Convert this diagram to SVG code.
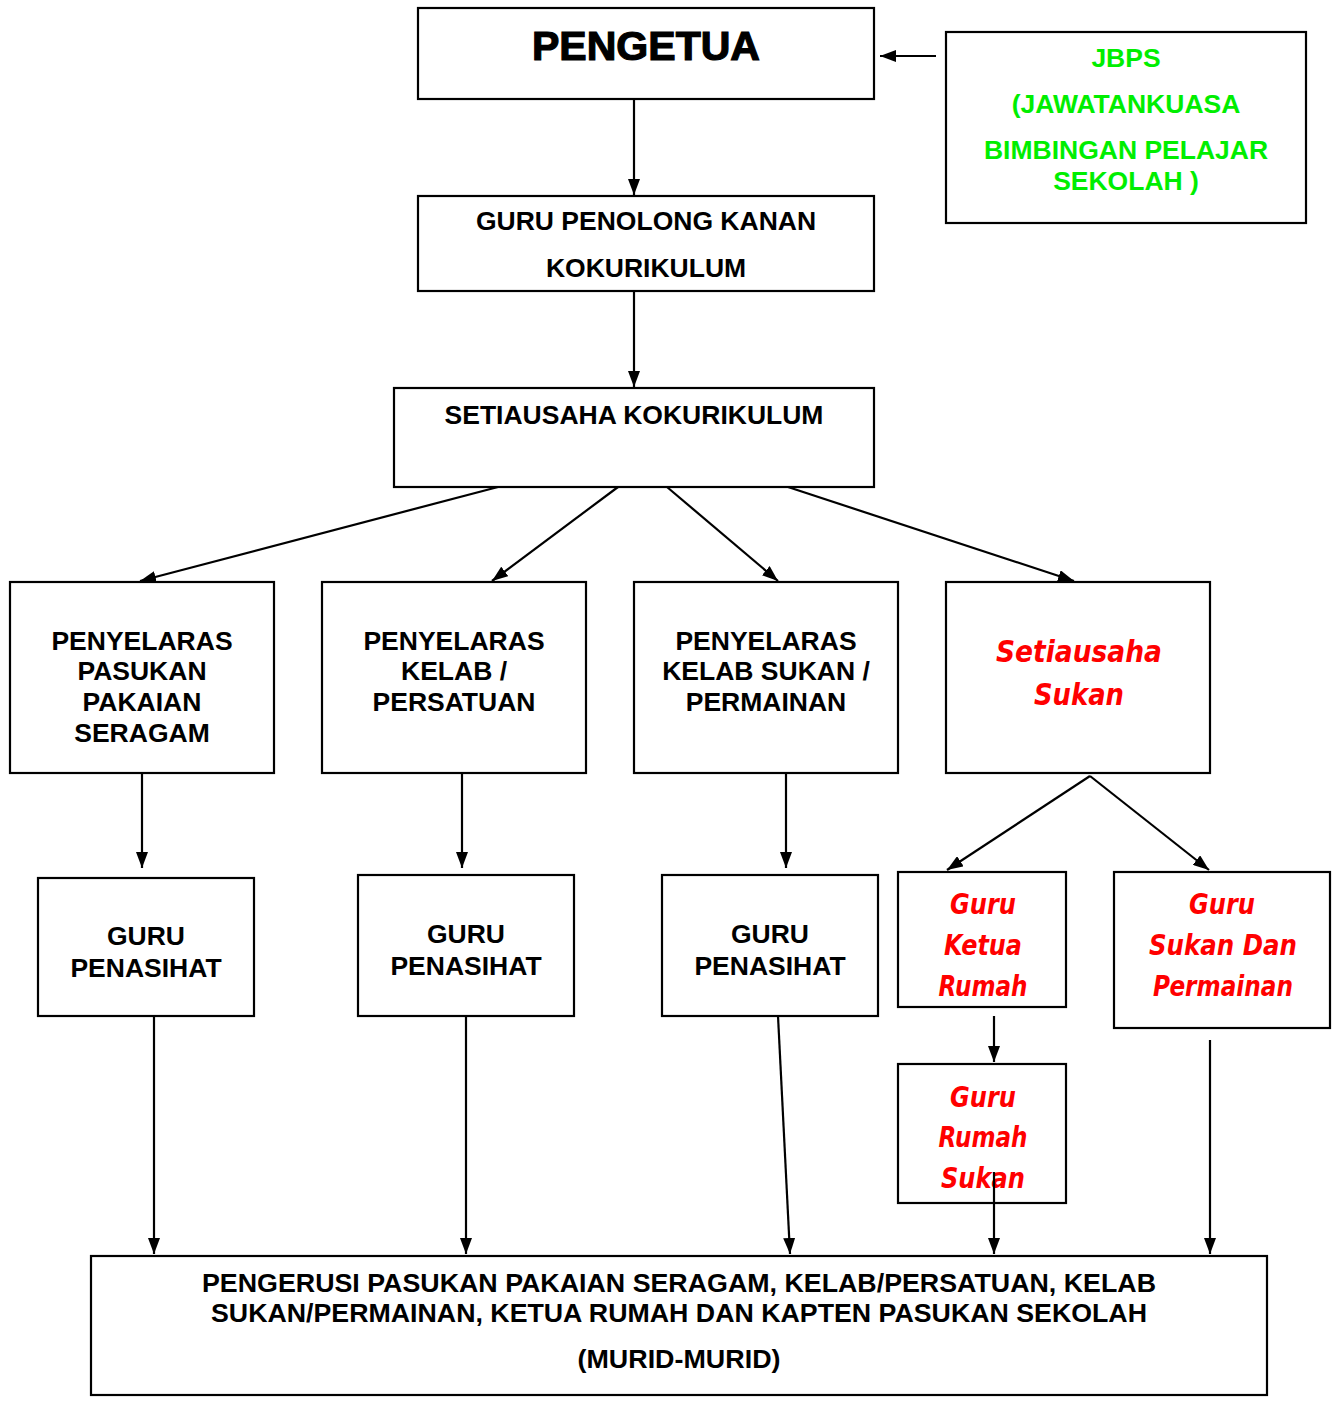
<svg xmlns="http://www.w3.org/2000/svg" width="1335" height="1405" viewBox="0 0 1335 1405">
<defs>
<marker id="ah" markerWidth="16" markerHeight="12" refX="16" refY="6" orient="auto" markerUnits="userSpaceOnUse">
<path d="M0,0 L16,6 L0,12 Z" fill="#000"/>
</marker>
<style>
.box{fill:#fff;stroke:#000;stroke-width:2.2}
.t{font-family:"Liberation Sans",Arial,sans-serif;font-weight:bold;font-size:26.5px;text-anchor:middle;fill:#000}
.g{fill:#00ee00}
.r{font-family:"Comic Sans MS","DejaVu Sans",sans-serif;font-weight:bold;font-style:italic;font-size:29px;text-anchor:middle;fill:#ff0000}
.c line{stroke:#000;stroke-width:2.2}
.a{marker-end:url(#ah)}
</style>
</defs>
<rect width="1335" height="1405" fill="#fff"/>
<g class="c">
<line class="a" x1="936" y1="56" x2="880" y2="56"/>
<line class="a" x1="634" y1="99" x2="634" y2="195"/>
<line class="a" x1="634" y1="291" x2="634" y2="387"/>
<line class="a" x1="498" y1="487" x2="140" y2="581"/>
<line class="a" x1="618" y1="487" x2="492" y2="581"/>
<line class="a" x1="667" y1="487" x2="778" y2="581"/>
<line class="a" x1="788" y1="487" x2="1074" y2="581"/>
<line class="a" x1="142" y1="773" x2="142" y2="868"/>
<line class="a" x1="462" y1="773" x2="462" y2="868"/>
<line class="a" x1="786" y1="773" x2="786" y2="868"/>
<line class="a" x1="1090" y1="776" x2="947" y2="870"/>
<line class="a" x1="1090" y1="776" x2="1209" y2="870"/>
<line class="a" x1="994" y1="1016" x2="994" y2="1062"/>
<line class="a" x1="154" y1="1016" x2="154" y2="1254"/>
<line class="a" x1="466" y1="1016" x2="466" y2="1254"/>
<line class="a" x1="778" y1="1016" x2="790" y2="1254"/>
<line class="a" x1="1210" y1="1040" x2="1210" y2="1254"/>
</g>
<g id="pengetua">
<rect class="box" x="418" y="8" width="456" height="91"/>
<text class="t" x="646" y="60" textLength="228" lengthAdjust="spacingAndGlyphs" style="font-size:41px;stroke:#000;stroke-width:1.2">PENGETUA</text>
</g>
<g id="jbps">
<rect class="box" x="946" y="32" width="360" height="191"/>
<text class="t g" x="1126" y="67">JBPS</text>
<text class="t g" x="1126" y="113">(JAWATANKUASA</text>
<text class="t g" x="1126" y="159">BIMBINGAN PELAJAR</text>
<text class="t g" x="1126" y="190">SEKOLAH )</text>
</g>
<g id="gpk">
<rect class="box" x="418" y="196" width="456" height="95"/>
<text class="t" x="646" y="230">GURU PENOLONG KANAN</text>
<text class="t" x="646" y="277">KOKURIKULUM</text>
</g>
<g id="sk">
<rect class="box" x="394" y="388" width="480" height="99"/>
<text class="t" x="634" y="424">SETIAUSAHA KOKURIKULUM</text>
</g>
<g id="p1">
<rect class="box" x="10" y="582" width="264" height="191"/>
<text class="t" x="142" y="650">PENYELARAS</text>
<text class="t" x="142" y="680">PASUKAN</text>
<text class="t" x="142" y="711">PAKAIAN</text>
<text class="t" x="142" y="742">SERAGAM</text>
</g>
<g id="p2">
<rect class="box" x="322" y="582" width="264" height="191"/>
<text class="t" x="454" y="650">PENYELARAS</text>
<text class="t" x="454" y="680">KELAB /</text>
<text class="t" x="454" y="711">PERSATUAN</text>
</g>
<g id="p3">
<rect class="box" x="634" y="582" width="264" height="191"/>
<text class="t" x="766" y="650">PENYELARAS</text>
<text class="t" x="766" y="680">KELAB SUKAN /</text>
<text class="t" x="766" y="711">PERMAINAN</text>
</g>
<g id="ss">
<rect class="box" x="946" y="582" width="264" height="191"/>
<text class="r" x="1079" y="662" textLength="166" lengthAdjust="spacingAndGlyphs" style="font-size:31px">Setiausaha</text>
<text class="r" x="1079" y="705" textLength="90" lengthAdjust="spacingAndGlyphs" style="font-size:31px">Sukan</text>
</g>
<g id="gp1">
<rect class="box" x="38" y="878" width="216" height="138"/>
<text class="t" x="146" y="945">GURU</text>
<text class="t" x="146" y="977">PENASIHAT</text>
</g>
<g id="gp2">
<rect class="box" x="358" y="875" width="216" height="141"/>
<text class="t" x="466" y="943">GURU</text>
<text class="t" x="466" y="975">PENASIHAT</text>
</g>
<g id="gp3">
<rect class="box" x="662" y="875" width="216" height="141"/>
<text class="t" x="770" y="943">GURU</text>
<text class="t" x="770" y="975">PENASIHAT</text>
</g>
<g id="gkr">
<rect class="box" x="898" y="872" width="168" height="135"/>
<text class="r" x="983" y="914" textLength="66" lengthAdjust="spacingAndGlyphs">Guru</text>
<text class="r" x="983" y="955" textLength="78" lengthAdjust="spacingAndGlyphs">Ketua</text>
<text class="r" x="983" y="996" textLength="89" lengthAdjust="spacingAndGlyphs">Rumah</text>
</g>
<g id="gsp">
<rect class="box" x="1114" y="872" width="216" height="156"/>
<text class="r" x="1222" y="914" textLength="66" lengthAdjust="spacingAndGlyphs">Guru</text>
<text class="r" x="1223" y="955" textLength="148" lengthAdjust="spacingAndGlyphs">Sukan Dan</text>
<text class="r" x="1223" y="996" textLength="140" lengthAdjust="spacingAndGlyphs">Permainan</text>
</g>
<g id="grs">
<rect class="box" x="898" y="1064" width="168" height="139"/>
<text class="r" x="983" y="1107" textLength="66" lengthAdjust="spacingAndGlyphs">Guru</text>
<text class="r" x="983" y="1147" textLength="89" lengthAdjust="spacingAndGlyphs">Rumah</text>
<text class="r" x="983" y="1188" textLength="84" lengthAdjust="spacingAndGlyphs">Sukan</text>
</g>
<g class="c"><line class="a" x1="994" y1="1172" x2="994" y2="1254"/></g>
<g id="murid">
<rect class="box" x="91" y="1256" width="1176" height="139"/>
<text class="t" x="679" y="1292" textLength="954" lengthAdjust="spacingAndGlyphs">PENGERUSI PASUKAN PAKAIAN SERAGAM, KELAB/PERSATUAN, KELAB</text>
<text class="t" x="679" y="1322" textLength="936" lengthAdjust="spacingAndGlyphs">SUKAN/PERMAINAN, KETUA RUMAH DAN KAPTEN PASUKAN SEKOLAH</text>
<text class="t" x="679" y="1368" textLength="203" lengthAdjust="spacingAndGlyphs">(MURID-MURID)</text>
</g>
</svg>
